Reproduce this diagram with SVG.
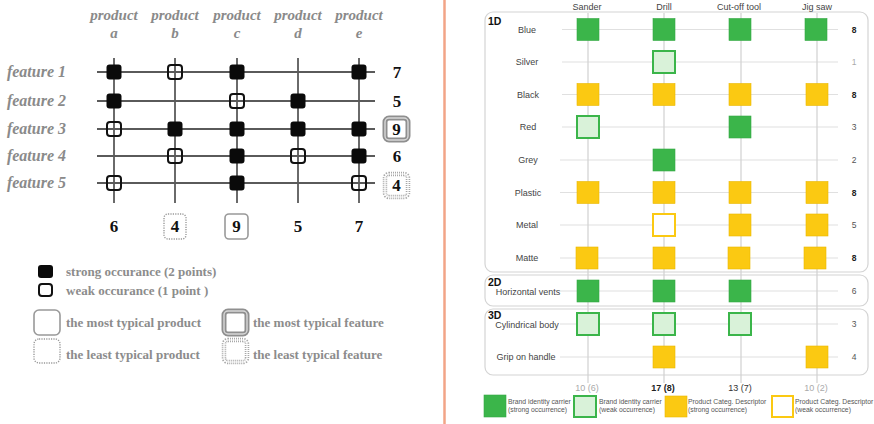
<svg xmlns="http://www.w3.org/2000/svg" width="874" height="424" viewBox="0 0 874 424">
  <style>
    .hd { font-family: "Liberation Serif", serif; font-weight: bold; font-style: italic; font-size: 15px; fill: #8a8a8a; text-anchor: middle; }
    .ft { font-family: "Liberation Serif", serif; font-weight: bold; font-style: italic; font-size: 16px; fill: #8a8a8a; text-anchor: end; }
    .num { font-family: "Liberation Serif", serif; font-weight: bold; font-size: 17px; fill: #111; text-anchor: middle; }
    .lg { font-family: "Liberation Serif", serif; font-weight: bold; font-size: 13px; fill: #8c8c8c; }
    .grid { stroke: #5a5a5a; stroke-width: 1.8; fill: none; }
    .strong { fill: #0a0a0a; }
    .weak { fill: none; stroke: #111; stroke-width: 2; }
    .tprod { fill: none; stroke: #999; stroke-width: 1.6; }
    .lprod { fill: none; stroke: #999; stroke-width: 1.4; stroke-dasharray: 1.2 1.2; }
    .tfeat { fill: none; stroke: #8f8f8f; stroke-width: 5; }
    .tfeat2 { fill: none; stroke: #d8d8d8; stroke-width: 1.4; }
    .lfeat { fill: none; stroke: #a8a8a8; stroke-width: 4.5; stroke-dasharray: 1 1; }
    .lfeat2 { fill: none; stroke: #fff; stroke-width: 1.2; }
    .divider { stroke: #f2a487; stroke-width: 2.5; }
    .col { font-family: "Liberation Sans", Arial, sans-serif; font-size: 9px; fill: #444; text-anchor: middle; }
    .row { font-family: "Liberation Sans", Arial, sans-serif; font-size: 9px; fill: #444; text-anchor: middle; }
    .sec { font-family: "Liberation Sans", Arial, sans-serif; font-size: 10.5px; font-weight: bold; fill: #111; }
    .rn { font-family: "Liberation Sans", Arial, sans-serif; font-size: 8.5px; fill: #555; text-anchor: middle; }
    .rnb { font-family: "Liberation Sans", Arial, sans-serif; font-size: 8.5px; font-weight: bold; fill: #222; text-anchor: middle; }
    .rnl { font-family: "Liberation Sans", Arial, sans-serif; font-size: 8.5px; fill: #aaa; text-anchor: middle; }
    .ct { font-family: "Liberation Sans", Arial, sans-serif; font-size: 9px; fill: #333; text-anchor: middle; }
    .ctb { font-family: "Liberation Sans", Arial, sans-serif; font-size: 9px; font-weight: bold; fill: #222; text-anchor: middle; }
    .ctl { font-family: "Liberation Sans", Arial, sans-serif; font-size: 9px; fill: #aaa; text-anchor: middle; }
    .box { fill: #fff; stroke: #d4d4d4; stroke-width: 1.2; }
    .rline { stroke: #e0e0e0; stroke-width: 1.2; }
    .cline { stroke: #d0d0d0; stroke-width: 1.2; }
    .g { fill: #3bb54a; stroke: #35a844; stroke-width: 0.6; }
    .gw { fill: #d9f2d9; stroke: #3bb54a; stroke-width: 2; }
    .y { fill: #fbc912; stroke: #eab700; stroke-width: 0.6; }
    .yw { fill: #fff; stroke: #fbc912; stroke-width: 2; }
    .leg { font-family: "Liberation Sans", Arial, sans-serif; font-size: 6.8px; fill: #555; }
  </style>

  <rect width="874" height="424" fill="#fff"/>

  <!-- ============ Left panel: feature / product matrix ============ -->
  <g id="product-headers">
    <text class="hd" x="114" y="20">product</text><text class="hd" x="114" y="38">a</text>
    <text class="hd" x="175" y="20">product</text><text class="hd" x="175" y="38">b</text>
    <text class="hd" x="237" y="20">product</text><text class="hd" x="237" y="38">c</text>
    <text class="hd" x="298" y="20">product</text><text class="hd" x="298" y="38">d</text>
    <text class="hd" x="359" y="20">product</text><text class="hd" x="359" y="38">e</text>
  </g>

  <g id="feature-labels">
    <text class="ft" x="66" y="77">feature 1</text>
    <text class="ft" x="66" y="106">feature 2</text>
    <text class="ft" x="66" y="134">feature 3</text>
    <text class="ft" x="66" y="161">feature 4</text>
    <text class="ft" x="66" y="188">feature 5</text>
  </g>

  <g id="grid">
    <line class="grid" x1="97" y1="72" x2="375" y2="72"/>
    <line class="grid" x1="97" y1="101" x2="375" y2="101"/>
    <line class="grid" x1="97" y1="129" x2="375" y2="129"/>
    <line class="grid" x1="97" y1="156" x2="375" y2="156"/>
    <line class="grid" x1="97" y1="183" x2="375" y2="183"/>
    <line class="grid" x1="114" y1="58" x2="114" y2="203"/>
    <line class="grid" x1="175" y1="58" x2="175" y2="203"/>
    <line class="grid" x1="237" y1="58" x2="237" y2="203"/>
    <line class="grid" x1="298" y1="58" x2="298" y2="203"/>
    <line class="grid" x1="359" y1="58" x2="359" y2="203"/>
  </g>

  <g id="cells">
    <!-- feature 1 -->
    <rect class="strong" x="106.5" y="64.5" width="15" height="15" rx="3"/>
    <rect class="weak" x="168" y="65" width="14" height="14" rx="3"/>
    <rect class="strong" x="229.5" y="64.5" width="15" height="15" rx="3"/>
    <rect class="strong" x="351.5" y="64.5" width="15" height="15" rx="3"/>
    <!-- feature 2 -->
    <rect class="strong" x="106.5" y="93.5" width="15" height="15" rx="3"/>
    <rect class="weak" x="230" y="94" width="14" height="14" rx="3"/>
    <rect class="strong" x="290.5" y="93.5" width="15" height="15" rx="3"/>
    <!-- feature 3 -->
    <rect class="weak" x="107" y="122" width="14" height="14" rx="3"/>
    <rect class="strong" x="167.5" y="121.5" width="15" height="15" rx="3"/>
    <rect class="strong" x="229.5" y="121.5" width="15" height="15" rx="3"/>
    <rect class="strong" x="290.5" y="121.5" width="15" height="15" rx="3"/>
    <rect class="strong" x="351.5" y="121.5" width="15" height="15" rx="3"/>
    <!-- feature 4 -->
    <rect class="weak" x="168" y="149" width="14" height="14" rx="3"/>
    <rect class="strong" x="229.5" y="148.5" width="15" height="15" rx="3"/>
    <rect class="weak" x="291" y="149" width="14" height="14" rx="3"/>
    <rect class="strong" x="351.5" y="148.5" width="15" height="15" rx="3"/>
    <!-- feature 5 -->
    <rect class="weak" x="107" y="176" width="14" height="14" rx="3"/>
    <rect class="strong" x="229.5" y="175.5" width="15" height="15" rx="3"/>
    <rect class="weak" x="352" y="176" width="14" height="14" rx="3"/>
  </g>

  <g id="row-totals">
    <text class="num" x="397" y="78">7</text>
    <text class="num" x="397" y="107">5</text>
    <rect class="tfeat" x="385" y="118" width="23" height="22" rx="4"/>
    <rect class="tfeat2" x="385" y="118" width="23" height="22" rx="4"/>
    <text class="num" x="396.5" y="135">9</text>
    <text class="num" x="397" y="162">6</text>
    <rect class="lfeat" x="385" y="174" width="23" height="23" rx="4"/>
    <rect class="lfeat2" x="385" y="174" width="23" height="23" rx="4"/>
    <text class="num" x="396.5" y="191">4</text>
  </g>

  <g id="column-totals">
    <text class="num" x="114" y="232">6</text>
    <rect class="lprod" x="164" y="214" width="22" height="25" rx="4"/>
    <text class="num" x="175" y="232">4</text>
    <rect class="tprod" x="225" y="214" width="23" height="25" rx="4"/>
    <text class="num" x="236.5" y="232">9</text>
    <text class="num" x="298" y="232">5</text>
    <text class="num" x="359" y="232">7</text>
  </g>

  <g id="legend-left">
    <rect class="strong" x="38" y="265" width="15" height="13" rx="3"/>
    <text class="lg" x="66" y="276">strong occurance (2 points)</text>
    <rect class="weak" x="39" y="284" width="13" height="12" rx="3"/>
    <text class="lg" x="66" y="295">weak occurance (1 point )</text>

    <rect class="tprod" x="34" y="310" width="26" height="25" rx="5"/>
    <text class="lg" x="66" y="327">the most typical product</text>
    <rect class="lprod" x="34" y="339" width="26" height="24" rx="5"/>
    <text class="lg" x="66" y="359">the least typical product</text>

    <rect class="tfeat" x="224" y="311" width="23" height="23" rx="4"/>
    <rect class="tfeat2" x="224" y="311" width="23" height="23" rx="4"/>
    <text class="lg" x="253" y="327">the most typical feature</text>
    <rect class="lfeat" x="224" y="340" width="23" height="22" rx="4"/>
    <rect class="lfeat2" x="224" y="340" width="23" height="22" rx="4"/>
    <text class="lg" x="253" y="359">the least typical feature</text>
  </g>

  <line class="divider" x1="444.5" y1="0" x2="444.5" y2="424"/>

  <!-- ============ Right panel: tool attribute matrix ============ -->
  <g id="section-boxes">
    <rect class="box" x="485" y="12" width="383" height="260" rx="8"/>
    <rect class="box" x="485" y="275" width="383" height="31" rx="8"/>
    <rect class="box" x="485" y="309" width="383" height="66" rx="8"/>
    <text class="sec" x="488" y="25">1D</text>
    <text class="sec" x="488" y="286">2D</text>
    <text class="sec" x="488" y="319">3D</text>
  </g>

  <g id="connectors">
    <line class="rline" x1="562" y1="29.5" x2="838" y2="29.5"/>
    <line class="rline" x1="562" y1="62" x2="838" y2="62"/>
    <line class="rline" x1="562" y1="94.5" x2="838" y2="94.5"/>
    <line class="rline" x1="562" y1="127" x2="838" y2="127"/>
    <line class="rline" x1="560" y1="160" x2="838" y2="160"/>
    <line class="rline" x1="560" y1="192.5" x2="838" y2="192.5"/>
    <line class="rline" x1="560" y1="225" x2="838" y2="225"/>
    <line class="rline" x1="560" y1="258" x2="838" y2="258"/>
    <line class="rline" x1="560" y1="291" x2="838" y2="291"/>
    <line class="rline" x1="560" y1="324" x2="838" y2="324"/>
    <line class="rline" x1="560" y1="357" x2="838" y2="357"/>
    <line class="cline" x1="588" y1="13" x2="588" y2="383"/>
    <line class="cline" x1="664" y1="13" x2="664" y2="383"/>
    <line class="cline" x1="741" y1="13" x2="741" y2="383"/>
    <line class="cline" x1="817" y1="13" x2="817" y2="383"/>
  </g>

  <g id="column-headers">
    <text class="col" x="587" y="10">Sander</text>
    <text class="col" x="664" y="10">Drill</text>
    <text class="col" x="739" y="10">Cut-off tool</text>
    <text class="col" x="817" y="10">Jig saw</text>
  </g>

  <g id="row-labels">
    <text class="row" x="527" y="32.5">Blue</text>
    <text class="row" x="527" y="65">Silver</text>
    <text class="row" x="528" y="97.5">Black</text>
    <text class="row" x="528" y="130">Red</text>
    <text class="row" x="528" y="163">Grey</text>
    <text class="row" x="528" y="195.5">Plastic</text>
    <text class="row" x="527" y="228">Metal</text>
    <text class="row" x="527" y="261">Matte</text>
    <text class="row" x="528" y="295">Horizontal vents</text>
    <text class="row" x="527" y="328">Cylindrical body</text>
    <text class="row" x="526" y="360">Grip on handle</text>
  </g>

  <g id="sander">
    <rect class="g" x="577" y="18.5" width="22" height="22"/>
    <rect class="y" x="577" y="83.5" width="22" height="22"/>
    <rect class="gw" x="577" y="116" width="22" height="22"/>
    <rect class="y" x="577" y="181.5" width="22" height="22"/>
    <rect class="y" x="576" y="247" width="22" height="22"/>
    <rect class="g" x="577" y="280" width="22" height="22"/>
    <rect class="gw" x="577" y="313" width="22" height="22"/>
  </g>

  <g id="drill">
    <rect class="g" x="653" y="18.5" width="22" height="22"/>
    <rect class="gw" x="653" y="51" width="22" height="22"/>
    <rect class="y" x="653" y="83.5" width="22" height="22"/>
    <rect class="g" x="653" y="149" width="22" height="22"/>
    <rect class="y" x="653" y="181.5" width="22" height="22"/>
    <rect class="yw" x="653" y="214" width="22" height="22"/>
    <rect class="y" x="653" y="247" width="22" height="22"/>
    <rect class="g" x="653" y="280" width="22" height="22"/>
    <rect class="gw" x="653" y="313" width="22" height="22"/>
    <rect class="y" x="653" y="346" width="22" height="22"/>
  </g>

  <g id="cut-off-tool">
    <rect class="g" x="729" y="18.5" width="22" height="22"/>
    <rect class="y" x="729" y="83.5" width="22" height="22"/>
    <rect class="g" x="729" y="116" width="22" height="22"/>
    <rect class="y" x="729" y="181.5" width="22" height="22"/>
    <rect class="y" x="729" y="214" width="22" height="22"/>
    <rect class="y" x="728" y="247" width="22" height="22"/>
    <rect class="g" x="729" y="280" width="22" height="22"/>
    <rect class="gw" x="729" y="313" width="22" height="22"/>
  </g>

  <g id="jig-saw">
    <rect class="g" x="805" y="18.5" width="22" height="22"/>
    <rect class="y" x="806" y="83.5" width="22" height="22"/>
    <rect class="y" x="806" y="181.5" width="22" height="22"/>
    <rect class="y" x="806" y="214" width="22" height="22"/>
    <rect class="y" x="804" y="247" width="22" height="22"/>
    <rect class="y" x="806" y="346" width="22" height="22"/>
  </g>

  <g id="row-counts">
    <text class="rnb" x="854" y="32.5">8</text>
    <text class="rnl" x="854" y="65">1</text>
    <text class="rnb" x="854" y="97.5">8</text>
    <text class="rn" x="854" y="130">3</text>
    <text class="rn" x="854" y="163">2</text>
    <text class="rnb" x="854" y="195.5">8</text>
    <text class="rn" x="854" y="228">5</text>
    <text class="rnb" x="854" y="261">8</text>
    <text class="rn" x="854" y="294">6</text>
    <text class="rn" x="854" y="327">3</text>
    <text class="rn" x="854" y="360">4</text>
  </g>

  <g id="column-counts">
    <text class="ctl" x="587" y="391">10 (6)</text>
    <text class="ctb" x="663" y="391">17 (8)</text>
    <text class="ct" x="740" y="391">13 (7)</text>
    <text class="ctl" x="816" y="391">10 (2)</text>
  </g>

  <g id="legend-right">
    <rect class="g" x="484" y="395" width="22" height="22"/>
    <text class="leg" x="508" y="404">Brand identity carrier</text>
    <text class="leg" x="508" y="412">(strong occurrence)</text>
    <rect class="gw" x="574" y="396" width="22" height="21"/>
    <text class="leg" x="599" y="404">Brand identity carrier</text>
    <text class="leg" x="599" y="412">(weak occurrence)</text>
    <rect class="y" x="665" y="396" width="22" height="21"/>
    <text class="leg" x="688" y="404">Product Categ. Descriptor</text>
    <text class="leg" x="688" y="412">(strong occurrence)</text>
    <rect class="yw" x="772" y="396" width="21" height="21"/>
    <text class="leg" x="795" y="404">Product Categ. Descriptor</text>
    <text class="leg" x="795" y="412">(weak occurrence)</text>
  </g>
</svg>
